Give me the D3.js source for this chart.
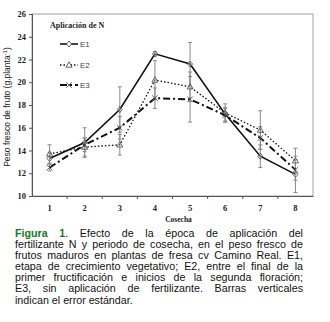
<!DOCTYPE html>
<html>
<head>
<meta charset="utf-8">
<script src="https://cdn.jsdelivr.net/npm/d3@7"></script>
<style>
  body { margin: 0; background: #fff; }
  #wrap { position: relative; width: 330px; height: 322px; overflow: hidden; }
  #caption {
    position: absolute; left: 15px; top: 228px; width: 288px;
    font-family: "Liberation Sans", Arial, sans-serif; font-size: 10.7px;
    line-height: 11.1px; color: #111;
  }
  #caption div { text-align: justify; text-align-last: justify; white-space: nowrap; }
  #caption div.last { text-align-last: left; }
  #caption b { color: #167a1c; font-weight: 900; }
</style>
</head>
<body>
<div id="wrap">
  <div id="viz"></div>
  <div id="caption"></div>
</div>
<script>
const width = 330;
const height = 322;
const margin = {top: 14, right: 17, bottom: 126, left: 32};

const cosecha = [1, 2, 3, 4, 5, 6, 7, 8];
const yTicks = [10, 12, 14, 16, 18, 20, 22, 24, 26];

const e1 = [13.3, 14.7, 17.6, 22.5, 21.6, 17.2, 13.5, 11.9];
const e1Err = [0.5, 1.3, 2.0, 0.2, 1.9, 0.6, 1.0, 1.6];
const e2 = [13.7, 14.3, 14.5, 20.2, 19.6, 17.3, 15.8, 13.1];
const e2Err = [0.8, 0.8, 0.9, 1.7, 1.3, 0.8, 1.7, 1.1];
const e3 = [12.5, 14.5, 16.0, 18.6, 18.5, 17.1, 15.1, 12.3];
const e3Err = [0.3, 0.6, 1.0, 0.9, 2.0, 0.6, 1.0, 0.9];

const captionLines = [
  '. Efecto de la época de aplicación del',
  'fertilizante N y periodo de cosecha, en el peso fresco de',
  'frutos maduros en plantas de fresa cv Camino Real. E1,',
  'etapa de crecimiento vegetativo; E2, entre el final de la',
  'primer fructificación e inicios de la segunda floración;',
  'E3, sin aplicación de fertilizante. Barras verticales',
  'indican el error estándar.'
];

const series = [
  { id: 'E1', values: e1, err: e1Err, dash: null, width: 1.6, marker: 'diamond' },
  { id: 'E2', values: e2, err: e2Err, dash: '1.5,2', width: 1.3, marker: 'triangle' },
  { id: 'E3', values: e3, err: e3Err, dash: '7,3,2,3', width: 2, marker: 'cross' }
];

// caption, one justified line per div
d3.select('#caption').selectAll('div')
  .data(captionLines)
  .join('div')
  .attr('class', (d, i) => i === captionLines.length - 1 ? 'last' : null)
  .each(function (d, i) {
    const div = d3.select(this);
    if (i === 0) div.append('b').text('Figura 1');
    div.append('span').text(d);
  });

const svg = d3.select('#viz')
  .append('svg')
  .attr('width', width)
  .attr('height', height)
  .style('position', 'absolute')
  .style('left', 0).style('top', 0);

const x = d3.scaleBand()
  .domain(cosecha)
  .range([margin.left, width - margin.right]);

const y = d3.scaleLinear()
  .domain([10, 26])
  .range([height - margin.bottom, margin.top]);

const plotBottom = height - margin.bottom;

// gray frame (top and right)
svg.append('rect')
  .attr('x', margin.left)
  .attr('y', margin.top)
  .attr('width', width - margin.right - margin.left)
  .attr('height', plotBottom - margin.top)
  .attr('fill', 'none')
  .attr('stroke', '#a0a0a0')
  .attr('stroke-width', 1);

// y axis
const yAxis = svg.append('g')
  .attr('transform', `translate(${margin.left},0)`)
  .call(d3.axisLeft(y).tickValues(yTicks).tickSize(3).tickPadding(3));
yAxis.select('.domain').attr('stroke', '#555');
yAxis.selectAll('line').attr('stroke', '#555');
yAxis.selectAll('text')
  .attr('font-family', '"Liberation Serif", "Times New Roman", serif')
  .attr('font-weight', 'bold')
  .attr('font-size', 8.5)
  .attr('fill', '#222');

// x axis
const xAxis = svg.append('g')
  .attr('transform', `translate(0,${plotBottom})`)
  .call(d3.axisBottom(x).tickSize(0).tickPadding(9));
xAxis.select('.domain').attr('stroke', '#555');
xAxis.selectAll('text')
  .attr('font-family', '"Liberation Serif", "Times New Roman", serif')
  .attr('font-weight', 'bold')
  .attr('font-size', 8.5)
  .attr('fill', '#222');
// small ticks between categories
xAxis.selectAll('.between')
  .data(cosecha.slice(1))
  .join('line')
  .attr('x1', d => x(d)).attr('x2', d => x(d))
  .attr('y1', 0).attr('y2', 3)
  .attr('stroke', '#555');

// axis titles
svg.append('text')
  .attr('x', (margin.left + width - margin.right) / 2 + 6)
  .attr('y', plotBottom + 26)
  .attr('text-anchor', 'middle')
  .attr('font-family', '"Liberation Serif", "Times New Roman", serif')
  .attr('font-weight', 'bold')
  .attr('font-size', 7.5)
  .attr('fill', '#222')
  .text('Cosecha');

svg.append('text')
  .attr('transform', `translate(10,${(margin.top + plotBottom) / 2 + 2}) rotate(-90)`)
  .attr('text-anchor', 'middle')
  .attr('font-family', '"Liberation Sans", Arial, sans-serif')
  .attr('font-size', 8.5)
  .attr('fill', '#222')
  .html('Peso fresco de fruto (g.planta<tspan dy="-3" font-size="6">-1</tspan><tspan dy="3">)</tspan>');

const cx = d => x(d) + x.bandwidth() / 2;

// error bars
series.forEach(s => {
  const g = svg.append('g').attr('stroke', '#8a8a8a').attr('stroke-width', 1);
  cosecha.forEach((c, i) => {
    const top = y(s.values[i] + s.err[i]);
    const bot = y(s.values[i] - s.err[i]);
    g.append('line').attr('x1', cx(c)).attr('x2', cx(c)).attr('y1', top).attr('y2', bot);
    g.append('line').attr('x1', cx(c) - 2).attr('x2', cx(c) + 2).attr('y1', top).attr('y2', top);
    g.append('line').attr('x1', cx(c) - 2).attr('x2', cx(c) + 2).attr('y1', bot).attr('y2', bot);
  });
});

const line = d3.line()
  .x((d, i) => cx(cosecha[i]))
  .y(d => y(d));

const markerPath = (type, px, py) => {
  if (type === 'diamond') {
    return `M${px},${py - 3}L${px + 2.5},${py}L${px},${py + 3}L${px - 2.5},${py}Z`;
  }
  if (type === 'triangle') {
    return `M${px},${py - 3.2}L${px + 3},${py + 2.2}L${px - 3},${py + 2.2}Z`;
  }
  return `M${px - 2.8},${py - 2.8}L${px + 2.8},${py + 2.8}M${px - 2.8},${py + 2.8}L${px + 2.8},${py - 2.8}`;
};

series.forEach(s => {
  svg.append('path')
    .datum(s.values)
    .attr('d', line)
    .attr('fill', 'none')
    .attr('stroke', '#111')
    .attr('stroke-width', s.width)
    .attr('stroke-dasharray', s.dash);

  svg.append('g')
    .selectAll('path')
    .data(s.values)
    .join('path')
    .attr('d', (d, i) => markerPath(s.marker, cx(cosecha[i]), y(d)))
    .attr('fill', s.marker === 'cross' ? 'none' : '#fff')
    .attr('fill-opacity', 0.3)
    .attr('stroke', '#555')
    .attr('stroke-width', 0.9);
});

// legend
svg.append('text')
  .attr('x', 50)
  .attr('y', 28)
  .attr('font-family', '"Liberation Serif", "Times New Roman", serif')
  .attr('font-weight', 'bold')
  .attr('font-size', 8)
  .attr('fill', '#222')
  .text('Aplicación de N');

const legendY = [44, 65, 85];
series.forEach((s, i) => {
  const ly = legendY[i];
  svg.append('line')
    .attr('x1', 60).attr('x2', 78)
    .attr('y1', ly).attr('y2', ly)
    .attr('stroke', '#111')
    .attr('stroke-width', s.width)
    .attr('stroke-dasharray', s.dash);
  svg.append('path')
    .attr('d', markerPath(s.marker, 69, ly))
    .attr('fill', s.marker === 'cross' ? 'none' : '#fff')
    .attr('stroke', '#555')
    .attr('stroke-width', 0.9);
  svg.append('text')
    .attr('x', 80)
    .attr('y', ly + 3)
    .attr('font-family', '"Liberation Sans", Arial, sans-serif')
    .attr('font-size', 8)
    .attr('fill', '#444')
    .text(s.id);
});
</script>
</body>
</html>
